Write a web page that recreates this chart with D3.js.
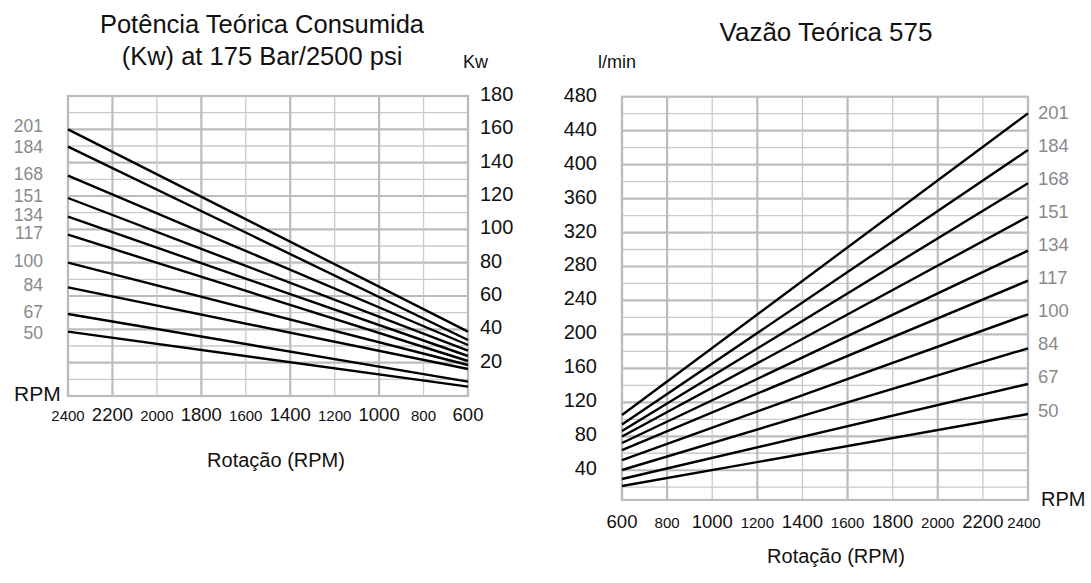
<!DOCTYPE html>
<html>
<head>
<meta charset="utf-8">
<script src="https://cdn.jsdelivr.net/npm/d3@7"></script>
<style>
html,body{margin:0;padding:0;background:#fff;}
svg{display:block;font-family:"Liberation Sans",Arial,sans-serif;}
</style>
</head>
<body>
<svg id="chart" width="1091" height="583"></svg>
<script>
// ---- data ----
const rpmTicks = [600, 800, 1000, 1200, 1400, 1600, 1800, 2000, 2200, 2400];
const smallRpmLabels = [800, 1200, 1600, 2000, 2400];
const displacements = [201, 184, 168, 151, 134, 117, 100, 84, 67, 50];
// Left chart: theoretical power (kW) at 2400 and 600 rpm
const powerAt2400 = [160, 149.6, 132.2, 118.8, 107.6, 96.8, 80, 65.2, 49.2, 38.6];
const powerAt600  = [38.6, 33.6, 30.6, 27.2, 24, 21, 18.6, 16.2, 8.6, 5.6];
// Right chart: theoretical flow (l/min) at 600 and 2400 rpm
const flowAt600  = [105.1, 93.9, 86.2, 79.7, 72.1, 63.8, 52.0, 40.3, 29.7, 21.4];
const flowAt2400 = [460.4, 417.2, 378, 338.6, 298.6, 263.3, 223.7, 183.6, 141.6, 106.2];
const kwTicks = [20, 40, 60, 80, 100, 120, 140, 160, 180];
const flowTicks = [40, 80, 120, 160, 200, 240, 280, 320, 360, 400, 440, 480];

const svg = d3.select("#chart");
const GRID_THICK = "#bcbcbc", GRID_THIN = "#cacaca", GRAY = "#8a8a8a";

function drawGrid(g, x, y, xVals, yMinorVals, yMajorStep, yTop, yBottomVal) {
  const y0 = y(yBottomVal), y1 = y(yTop);
  const x0 = d3.min(x.range()), x1 = d3.max(x.range());
  yMinorVals.forEach(v => {
    const major = v % yMajorStep === 0;
    g.append("line").attr("x1", x0).attr("x2", x1).attr("y1", y(v)).attr("y2", y(v))
      .attr("stroke", major ? GRID_THICK : GRID_THIN).attr("stroke-width", major ? 2.2 : 1.3);
  });
  const sorted = xVals.slice().sort((a, b) => x(a) - x(b));
  sorted.forEach((v, i) => {
    const major = i % 2 === 1 || i === 0 || i === sorted.length - 1;
    g.append("line").attr("x1", x(v)).attr("x2", x(v)).attr("y1", y0).attr("y2", y1)
      .attr("stroke", major ? GRID_THICK : GRID_THIN).attr("stroke-width", major ? 2.2 : 1.3);
  });
  g.append("rect").attr("x", x0).attr("y", y1).attr("width", x1 - x0).attr("height", y0 - y1)
    .attr("fill", "none").attr("stroke", GRID_THICK).attr("stroke-width", 2.2);
}

// ================= LEFT CHART =================
{
  const x = d3.scaleLinear().domain([2400, 600]).range([68, 468]);
  const y = d3.scaleLinear().domain([0, 180]).range([396, 96]);
  const g = svg.append("g");
  drawGrid(g, x, y, rpmTicks, d3.range(10, 180, 10), 20, 180, 0);

  const line = d3.line().x(d => x(d[0])).y(d => y(d[1]));
  const n = displacements.length;
  displacements.forEach((d, i) => {
    g.append("path").datum([[2400, powerAt2400[i]], [600, powerAt600[i]]])
      .attr("d", line).attr("fill", "none").attr("stroke", "#000").attr("stroke-width", 2.4);
    const nudge = i === 0 ? -3 : (i === 1 ? 0 : (i === n - 1 ? 1 : -2));
    g.append("text").attr("x", 43).attr("y", y(powerAt2400[i]) + nudge)
      .attr("text-anchor", "end").attr("dominant-baseline", "central")
      .attr("font-size", 17.5).attr("fill", GRAY).text(d);
  });

  g.selectAll(".kw").data(kwTicks).enter().append("text")
    .attr("x", 480).attr("y", v => y(v) - 2).attr("dominant-baseline", "central")
    .attr("font-size", 20).attr("fill", "#111").text(v => v);

  g.selectAll(".xl").data(rpmTicks).enter().append("text")
    .attr("x", v => x(v)).attr("y", 421).attr("text-anchor", "middle")
    .attr("font-size", v => smallRpmLabels.includes(v) ? 15 : 18.5).attr("fill", "#111").text(v => v);

  g.append("text").attr("x", 14).attr("y", 401).attr("font-size", 21).attr("fill", "#111").text("RPM");
  g.append("text").attr("x", 463).attr("y", 68).attr("font-size", 18).attr("fill", "#111").text("Kw");
  g.append("text").attr("x", 262).attr("y", 33).attr("text-anchor", "middle")
    .attr("font-size", 25.5).attr("fill", "#111").text("Potência Teórica Consumida");
  g.append("text").attr("x", 262).attr("y", 65).attr("text-anchor", "middle")
    .attr("font-size", 25.5).attr("fill", "#111").text("(Kw) at 175 Bar/2500 psi");
  g.append("text").attr("x", 276).attr("y", 467).attr("text-anchor", "middle")
    .attr("font-size", 20).attr("fill", "#111").text("Rotação (RPM)");
}

// ================= RIGHT CHART =================
{
  const x = d3.scaleLinear().domain([600, 2400]).range([622, 1028]);
  const y = d3.scaleLinear().domain([0, 480]).range([504.2, 96.7]);
  const g = svg.append("g");
  drawGrid(g, x, y, rpmTicks, d3.range(20, 480, 20), 40, 480, 5);

  const line = d3.line().x(d => x(d[0])).y(d => y(d[1]));
  displacements.forEach((d, i) => {
    g.append("path").datum([[600, flowAt600[i]], [2400, flowAt2400[i]]])
      .attr("d", line).attr("fill", "none").attr("stroke", "#000").attr("stroke-width", 2.4);
  });
  const labelY = d3.scaleLinear().domain([0, displacements.length - 1]).range([y(flowAt2400[0]) - 1, y(flowAt2400[displacements.length - 1]) - 4]);
  displacements.forEach((d, i) => {
    g.append("text").attr("x", 1038).attr("y", labelY(i)).attr("dominant-baseline", "central")
      .attr("font-size", 18.5).attr("fill", GRAY).text(d);
  });

  g.selectAll(".fl").data(flowTicks).enter().append("text")
    .attr("x", 597).attr("y", v => y(v) - 2).attr("text-anchor", "end").attr("dominant-baseline", "central")
    .attr("font-size", 20).attr("fill", "#111").text(v => v);

  g.selectAll(".xl").data(rpmTicks).enter().append("text")
    .attr("x", v => x(v) - (v === 2400 ? 4 : 0)).attr("y", 528).attr("text-anchor", "middle")
    .attr("font-size", v => smallRpmLabels.includes(v) ? 15 : 18.5).attr("fill", "#111").text(v => v);

  g.append("text").attr("x", 1041).attr("y", 506).attr("font-size", 20).attr("fill", "#111").text("RPM");
  g.append("text").attr("x", 598).attr("y", 68).attr("font-size", 18).attr("fill", "#111").text("l/min");
  g.append("text").attr("x", 826).attr("y", 41).attr("text-anchor", "middle")
    .attr("font-size", 26).attr("fill", "#111").text("Vazão Teórica 575");
  g.append("text").attr("x", 836).attr("y", 563).attr("text-anchor", "middle")
    .attr("font-size", 20).attr("fill", "#111").text("Rotação (RPM)");
}
</script>
</body>
</html>
